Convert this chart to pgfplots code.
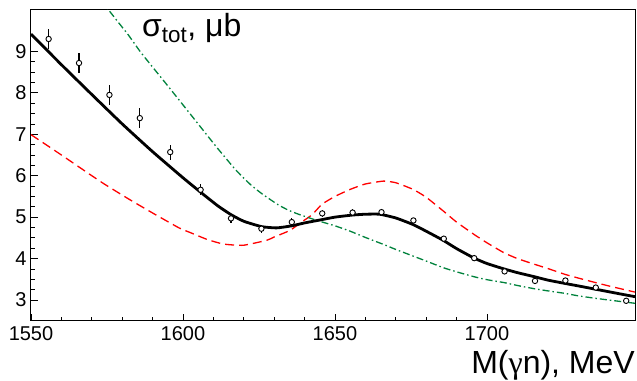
\documentclass[border=0pt]{standalone}
\usepackage{fontspec}
\setmainfont{Liberation Sans}
\newfontfamily\greekserif{Liberation Serif}
\usepackage{pgfplots}
\usepackage{pgfplotstable}
\pgfplotsset{compat=1.18}
\usetikzlibrary{calc}
\definecolor{dgreen}{RGB}{0,130,60}

\pgfplotstableread{
x y e
1555.8 9.30 0.24
1565.8 8.72 0.24
1575.8 7.95 0.24
1585.8 7.39 0.24
1595.8 6.57 0.18
1605.8 5.66 0.13
1615.8 4.97 0.10
1625.8 4.72 0.10
1635.8 4.88 0.10
1645.8 5.09 0.09
1655.8 5.11 0.08
1665.3 5.12 0.08
1675.8 4.92 0.07
1685.8 4.48 0.07
1695.8 4.01 0.06
1705.8 3.69 0.06
1715.8 3.46 0.05
1725.8 3.47 0.05
1735.8 3.30 0.05
1745.8 2.98 0.05
}\data

\pgfplotstableread{
x y
1550 9.42
1560 8.68
1570 7.96
1580 7.25
1590 6.58
1600 5.95
1606 5.59
1611.5 5.27
1615.8 5.06
1620 4.90
1625.9 4.77
1630.8 4.74
1635.8 4.79
1640 4.86
1645 4.93
1650 5.00
1655.8 5.05
1660 5.07
1664.7 5.07
1670 4.98
1675.7 4.82
1680 4.66
1685.6 4.44
1690 4.24
1695.8 4.01
1700 3.88
1705.6 3.75
1710 3.66
1715.7 3.56
1720 3.48
1725.6 3.40
1730 3.34
1735.7 3.26
1740 3.20
1745 3.13
1748.7 3.08
}\black

\pgfplotstableread{
x y
1550 6.99
1560 6.50
1570 6.00
1574.3 5.79
1582.3 5.43
1590 5.10
1598.7 4.74
1602.3 4.63
1608 4.46
1613.3 4.35
1619.8 4.32
1627.5 4.44
1630 4.52
1635.2 4.68
1639 4.88
1642.5 5.06
1645.7 5.31
1650 5.50
1655 5.67
1660 5.80
1666 5.87
1670 5.83
1675.7 5.67
1680 5.48
1685.6 5.15
1690 4.88
1695.8 4.58
1700 4.38
1705.6 4.14
1710 4.00
1715.7 3.86
1720 3.76
1725.6 3.62
1730 3.53
1735.7 3.42
1740 3.34
1748.7 3.19
}\red

\pgfplotstableread{
x y
1570 10.52
1578.1 9.76
1582 9.40
1586.3 8.96
1595.1 8.16
1603.9 7.35
1608 6.97
1611.5 6.65
1614 6.43
1617.1 6.16
1620 5.94
1622.6 5.76
1625.5 5.59
1628.6 5.43
1631.5 5.29
1634.6 5.17
1638 5.07
1641.2 4.99
1644.5 4.91
1650 4.79
1655 4.66
1660 4.51
1666 4.34
1670 4.22
1675.7 4.06
1680 3.94
1685.6 3.78
1690 3.68
1695.8 3.56
1700 3.49
1705.6 3.42
1710 3.35
1715.7 3.27
1720 3.22
1725.6 3.16
1730 3.10
1735.7 3.04
1740 3.00
1748.7 2.92
}\green

\begin{document}
\begin{tikzpicture}
\begin{axis}[name=ax, at={(0,0)}, anchor=south west,
  scale only axis, width=604pt, height=310.7pt,
  xmin=1550, xmax=1748.7, ymin=2.5, ymax=10,
  xtick={1550,1600,1650,1700}, ytick={3,4,5,6,7,8,9},
  minor x tick num=4, minor y tick num=3,
  tick align=inside, xtick pos=bottom, ytick pos=left,
  major tick length=7pt, minor tick length=4pt,
  tick style={black, line width=0.8pt},
  axis line style={line width=1pt},
  /pgf/number format/assume math mode=true,
  /pgf/number format/1000 sep={},
  ticklabel style={font=\fontsize{20}{24}\selectfont},
  xticklabel style={yshift=-2pt},
  yticklabel style={xshift=-1pt},
]
\addplot[red, line width=1.3pt, dash pattern=on 9pt off 5pt, smooth, tension=0.3] table[x=x,y=y]{\red};
\addplot[dgreen, line width=1.3pt, dash pattern=on 7pt off 3pt on 1.5pt off 3pt, smooth, tension=0.3] table[x=x,y=y]{\green};
\addplot[black, line width=2.8pt, smooth, tension=0.3] table[x=x,y=y]{\black};
\addplot[only marks, mark=*, mark size=2.7pt,
  mark options={fill=white, draw=black, line width=0.9pt},
  error bars/.cd, y dir=both, y explicit,
  error bar style={line width=1.3pt, black}, error mark=none]
  table[x=x,y=y,y error=e]{\data};
\end{axis}
\node[anchor=base east, inner sep=0, font=\fontsize{32}{38}\selectfont] at ($(ax.south east)+(0,-53.3pt)$) {M({\greekserif γ}n), MeV};
\node[anchor=base west, inner sep=0, font=\fontsize{32}{38}\selectfont] at ($(ax.north west)+(111pt,-26.7pt)$) {σ\textsubscript{tot}, μb};
\pgfresetboundingbox
\path[use as bounding box] ($(ax.south west)+(-31pt,-60.3pt)$) rectangle ($(ax.north east)+(2pt,10pt)$);
\end{tikzpicture}
\end{document}
